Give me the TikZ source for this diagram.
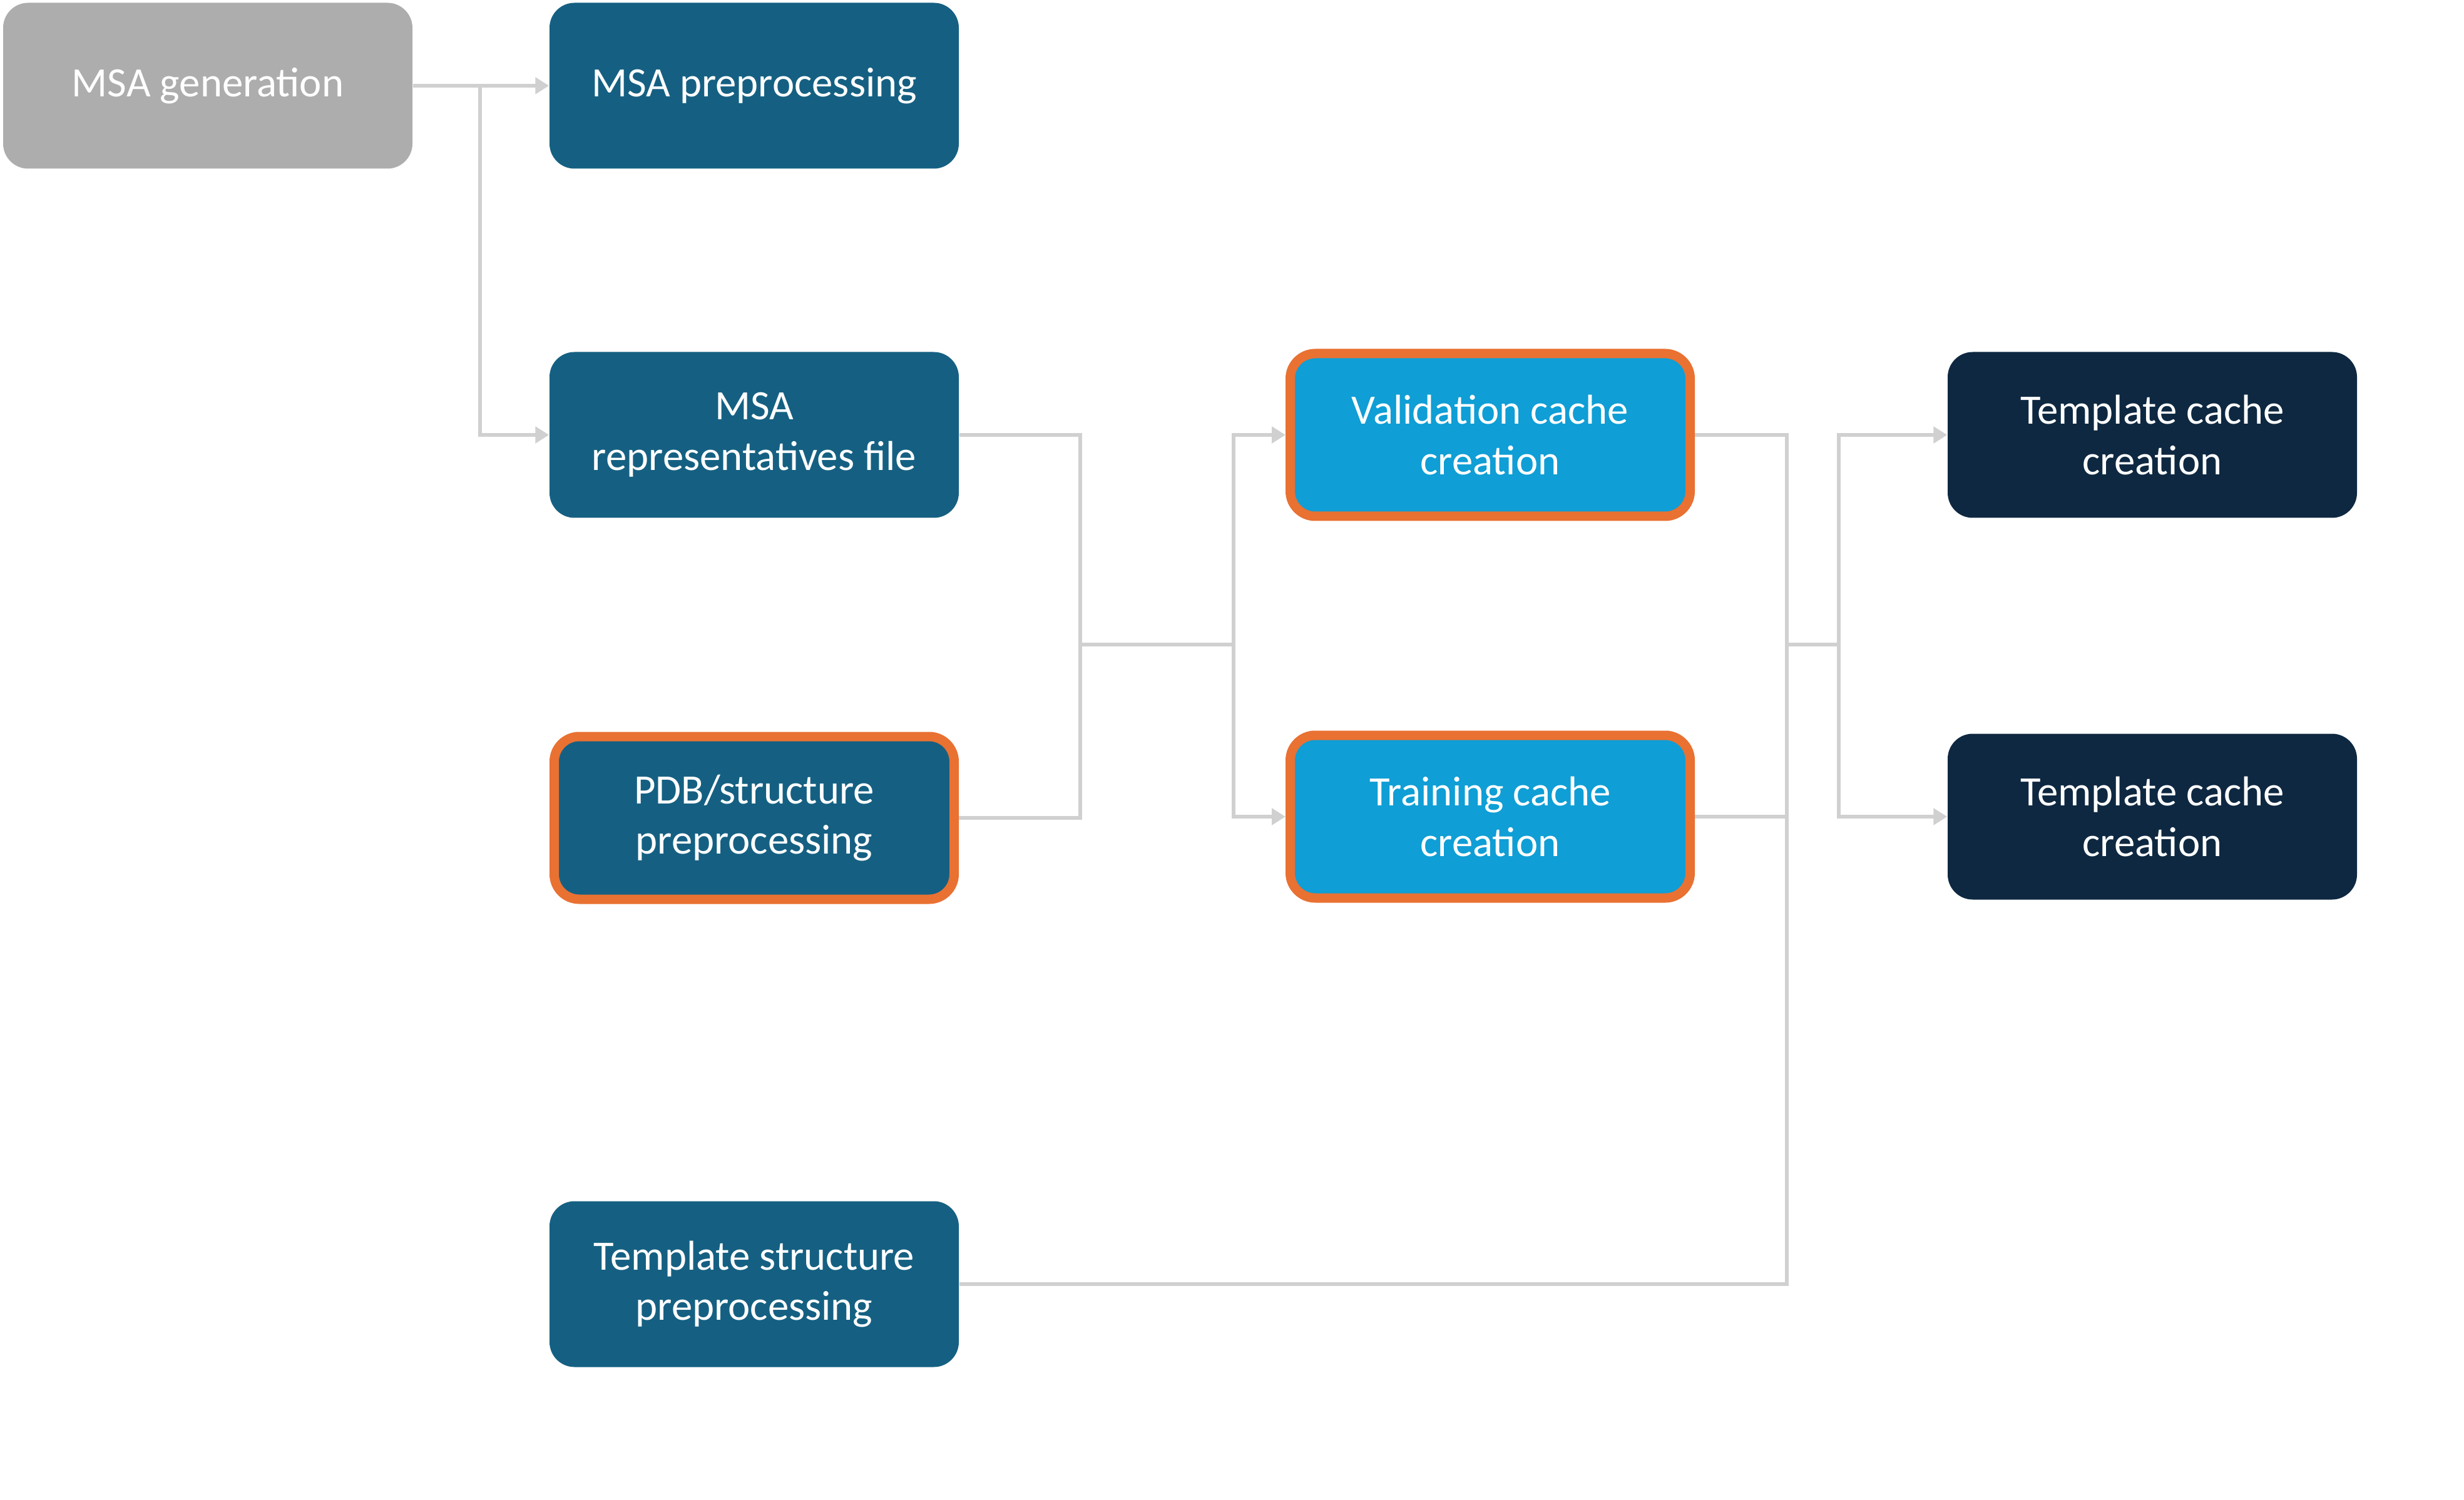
\documentclass[tikz,border=0pt]{standalone}
\usepackage{fontspec}
\setmainfont{Carlito}
\usetikzlibrary{arrows.meta}
\definecolor{cgray}{HTML}{ADADAD}
\definecolor{cblue}{HTML}{156082}
\definecolor{clight}{HTML}{0F9ED5}
\definecolor{cdark}{HTML}{0E2841}
\definecolor{corange}{HTML}{E97132}
\definecolor{cline}{HTML}{D0D0D0}
\begin{document}
\begin{tikzpicture}[
  box/.style={rounded corners=0.4cm, minimum width=6.54cm, minimum height=2.65cm, inner sep=0pt, align=center, text=white, font=\fontsize{19}{23}\selectfont},
  hl/.style={draw=corange, line width=0.15cm, minimum width=6.39cm, minimum height=2.6cm},
  conn/.style={draw=cline, line width=0.06cm},
  arr/.style={conn, -{Triangle[length=0.22cm,width=0.26cm]}}
]
\useasboundingbox (0,0) rectangle (39.37,-23.97);
\node[box, fill=cgray] (gen) at (3.32,-1.37) {MSA generation};
\node[box, fill=cblue] (pre) at (12.05,-1.37) {MSA preprocessing};
\node[box, fill=cblue] (rep) at (12.05,-6.95) {MSA\\representatives file};
\node[box, fill=cblue, hl] (pdb) at (12.05,-13.07) {PDB/structure\\preprocessing};
\node[box, fill=cblue] (ts) at (12.05,-20.52) {Template structure\\preprocessing};
\node[box, fill=clight, hl] (val) at (23.81,-6.95) {Validation cache\\creation};
\node[box, fill=clight, hl] (tr) at (23.81,-13.05) {Training cache\\creation};
\node[box, fill=cdark] (tc1) at (34.39,-6.95) {Template cache\\creation};
\node[box, fill=cdark] (tc2) at (34.39,-13.05) {Template cache\\creation};
\coordinate (j1) at (17.26,-10.30);
\coordinate (j2) at (19.71,-10.30);
\coordinate (j3) at (28.55,-10.30);
\coordinate (j4) at (29.38,-10.30);
\draw[arr] (gen.east) -- (pre.west);
\draw[arr] (7.67,-1.37) |- (rep.west);
\draw[conn] (rep.east) -| (j1);
\draw[conn] (pdb.east) -| (j1);
\draw[conn] (j1) -- (j2);
\draw[arr] (j2) |- (val.west);
\draw[arr] (j2) |- (tr.west);
\draw[conn] (val.east) -| (j3);
\draw[conn] (tr.east) -| (j3);
\draw[conn] (ts.east) -| (j3);
\draw[conn] (j3) -- (j4);
\draw[arr] (j4) |- (tc1.west);
\draw[arr] (j4) |- (tc2.west);
\end{tikzpicture}
\end{document}
